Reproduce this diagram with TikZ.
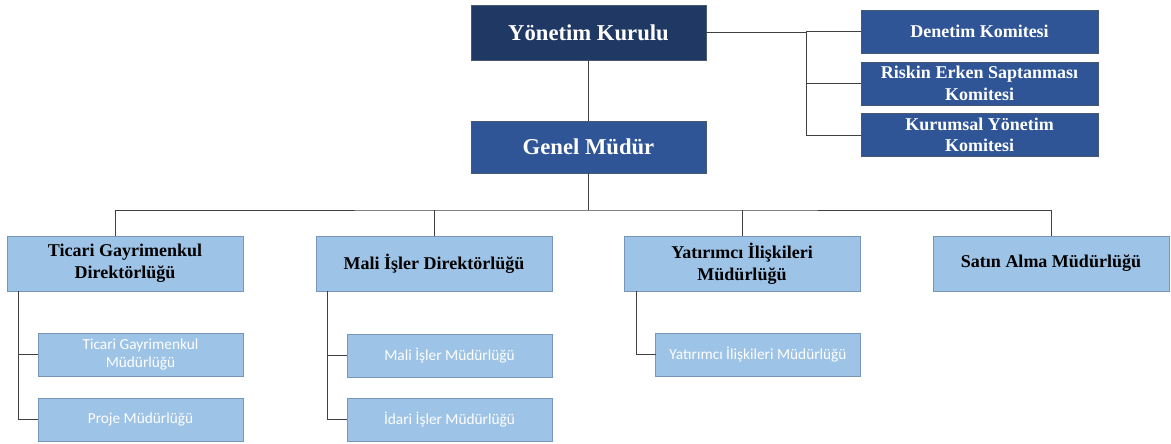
\documentclass[tikz,border=0pt]{standalone}
\usepackage{fontspec}
\setmainfont{Liberation Serif}
\newfontfamily\calibri{Carlito}
\definecolor{kurul}{RGB}{32,56,100}
\definecolor{koyu}{RGB}{47,85,151}
\definecolor{acik}{RGB}{157,195,230}
\definecolor{kenar}{RGB}{120,150,185}
\definecolor{hat}{RGB}{64,64,64}
\begin{document}
\begin{tikzpicture}[x=0.75pt,y=-0.75pt,
    hat/.style={draw=hat,line width=0.75pt}]

        \useasboundingbox (0,0) rectangle (1171,443);

        \begin{scope}[every node/.style={rectangle,draw=kenar!60!black,line width=0.4pt,
            text=white,font=\bfseries,align=center,inner sep=0pt,outer sep=0pt}]
          \node[fill=kurul,minimum width=176.25pt,minimum height=41.25pt,
                font=\bfseries\fontsize{17}{20}\selectfont] (yk) at (588.5,32.5) {Yönetim Kurulu};
          \node[fill=koyu,minimum width=176.25pt,minimum height=39pt,
                font=\bfseries\fontsize{17}{20}\selectfont] (gm) at (588.5,147) {Genel Müdür};
        \end{scope}

        \begin{scope}[every node/.style={rectangle,draw=kenar!60!black,line width=0.4pt,fill=koyu,
            text=white,font=\bfseries\fontsize{13.5}{16}\selectfont,align=center,
            minimum width=177.75pt,minimum height=32.25pt,inner sep=0pt,outer sep=0pt}]
          \node (dk) at (979.5,31.5) {Denetim Komitesi};
          \node (rk) at (979.5,83.5) {Riskin Erken Saptanması\\Komitesi};
          \node (ky) at (979.5,135)  {Kurumsal Yönetim\\Komitesi};
        \end{scope}

        \begin{scope}[every node/.style={rectangle,draw=kenar,line width=0.6pt,fill=acik,
            font=\bfseries\fontsize{13.5}{16.5}\selectfont,align=center,
            minimum width=177pt,minimum height=41.25pt,inner sep=0pt,outer sep=0pt}]
          \node (td) at (125,263.5)  {Ticari Gayrimenkul\\Direktörlüğü};
          \node (md) at (434,263.5)  {Mali İşler Direktörlüğü};
          \node (yd) at (742,263.5)  {Yatırımcı İlişkileri\\Müdürlüğü};
          \node (sd) at (1051,263.5) {Satın Alma Müdürlüğü};
        \end{scope}

        \begin{scope}[every node/.style={rectangle,draw=kenar,line width=0.6pt,fill=acik,
            text=white,font=\calibri\fontsize{11.5}{14}\selectfont,align=center,
            minimum width=153.75pt,minimum height=32.25pt,inner sep=0pt,outer sep=0pt}]
          \node (tm) at (140.5,354.5) {Ticari Gayrimenkul\\Müdürlüğü};
          \node (pm) at (140.5,419.5) {Proje Müdürlüğü};
          \node (mm) at (449.5,355.5) {Mali İşler Müdürlüğü};
          \node (im) at (449.5,419.5) {İdari İşler Müdürlüğü};
          \node (ym) at (758,354.5)   {Yatırımcı İlişkileri Müdürlüğü};
        \end{scope}

        \coordinate (kol) at (806,32.5);
        \coordinate (bus) at (588.5,210);

        % kurul ve komiteler
        \draw[hat] (yk) -- (gm);
        \draw[hat] (yk.east) -- (kol) |- (dk.west);
        \draw[hat] (kol) |- (rk.west);
        \draw[hat] (kol) |- (ky.west);

        % direktorlukler
        \draw[hat] (gm.south) -- (bus);
        \draw[hat] ([xshift=-7.5pt]td.north) |- (bus) -| (sd.north);
        \draw[hat] (md.north) -- (md.north |- bus);
        \draw[hat] (yd.north) -- (yd.north |- bus);

        % mudurlukler
        \draw[hat] ([xshift=8.25pt]td.south west) |- (tm.west);
        \draw[hat] ([xshift=8.25pt]td.south west) |- (pm.west);
        \draw[hat] ([xshift=8.25pt]md.south west) |- (mm.west);
        \draw[hat] ([xshift=8.25pt]md.south west) |- (im.west);
        \draw[hat] ([xshift=9pt]yd.south west) |- (ym.west);

      \end{tikzpicture}
\end{document}
